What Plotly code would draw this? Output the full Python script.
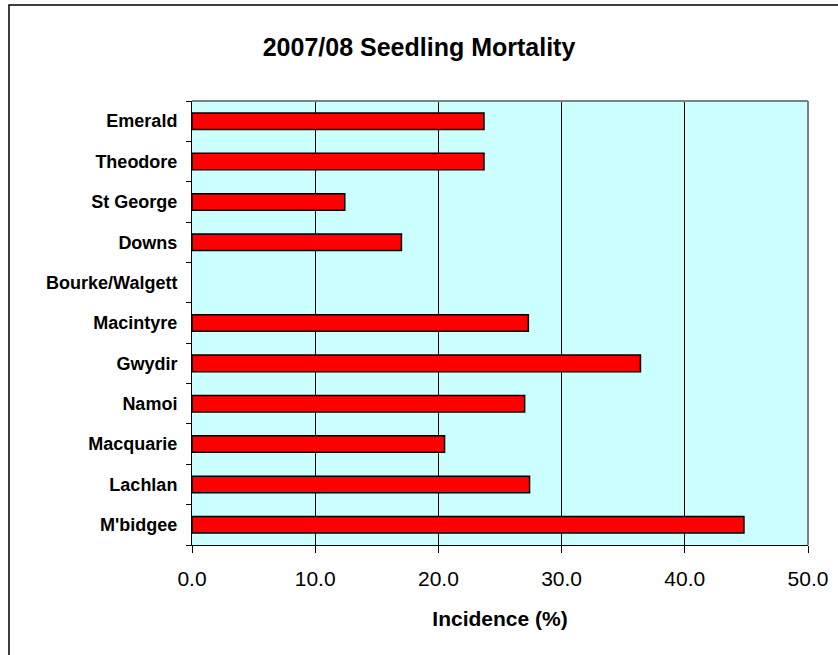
import plotly.graph_objects as go

regions = ["Emerald", "Theodore", "St George", "Downs", "Bourke/Walgett",
           "Macintyre", "Gwydir", "Namoi", "Macquarie", "Lachlan", "M'bidgee"]
incidence = [23.7, 23.7, 12.4, 17.0, None, 27.3, 36.4, 27.0, 20.5, 27.4, 44.8]
x_ticks = [0, 10, 20, 30, 40, 50]
x_tick_labels = ["0.0", "10.0", "20.0", "30.0", "40.0", "50.0"]

FONT = "Arial, 'Liberation Sans', sans-serif"

fig = go.Figure(go.Bar(
    y=regions, x=incidence, orientation="h",
    marker=dict(color="#FF0000", line=dict(color="#000000", width=1.5)),
    width=0.41,
))

W, H = 838, 655
L, R, T, B = 192, 30, 101, 110
pw, ph = W - L - R, H - T - B

def px_x(px):
    return (px - L) / pw

def px_y(py):
    return (H - B - py) / ph

fig.update_layout(
    width=W, height=H,
    margin=dict(l=L, r=R, t=T, b=B, autoexpand=False),
    paper_bgcolor="white",
    plot_bgcolor="#CCFFFF",
    showlegend=False,
    font=dict(family=FONT, color="#000000"),
    title=dict(text="<b>2007/08 Seedling Mortality</b>", x=0.5, xanchor="center",
               y=1 - 47 / H, yanchor="middle", font=dict(size=25, family=FONT)),
    xaxis=dict(
        range=[0, 50], tickvals=x_ticks, ticktext=x_tick_labels,
        showgrid=True, gridcolor="#000000", gridwidth=1,
        showline=True, linecolor="#000000", linewidth=1,
        ticks="outside", ticklen=7, tickcolor="#000000",
        tickfont=dict(size=21, family=FONT),
        ticklabelstandoff=8,
        zeroline=False, mirror=False,
        title=dict(text="<b>Incidence (%)</b>", font=dict(size=21, family=FONT), standoff=22),
    ),
    yaxis=dict(
        autorange="reversed", type="category",
        showgrid=False, showline=True, linecolor="#000000", linewidth=1,
        ticks="outside", ticklen=5, tickcolor="#000000", tickson="boundaries",
        tickfont=dict(size=18, family=FONT),
        ticklabelstandoff=10,
    ),
    bargap=0.59,
)

# bold category labels
fig.update_yaxes(tickvals=regions, ticktext=[f"<b>{r}</b>" for r in regions])

shapes = [
    # plot area border (top and right, grey)
    dict(type="line", xref="paper", yref="paper", x0=0, x1=1, y0=1, y1=1,
         line=dict(color="#808080", width=2)),
    dict(type="line", xref="paper", yref="paper", x0=1, x1=1, y0=0, y1=1,
         line=dict(color="#808080", width=2)),
    # outer chart border
    dict(type="rect", xref="paper", yref="paper",
         x0=px_x(9), x1=px_x(860), y0=px_y(680), y1=px_y(5),
         line=dict(color="#000000", width=1.5), fillcolor="rgba(0,0,0,0)", layer="above"),
]
fig.update_layout(shapes=shapes)

fig.write_html("out.html", config={"displayModeBar": False},
               post_script="document.body.style.margin='0px';document.body.style.overflow='hidden';")
